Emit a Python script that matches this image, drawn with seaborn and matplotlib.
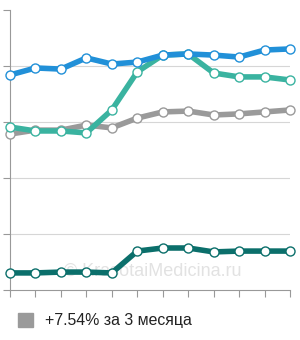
import numpy as np
import pandas as pd
import matplotlib
matplotlib.use("Agg")
import matplotlib.pyplot as plt
import seaborn as sns

# ---------- DATA ----------
months = list(range(12))
blue = [76.8, 79.3, 78.9, 82.9, 80.7, 81.4, 83.9, 84.3, 83.9, 83.2, 85.7, 86.1]
teal = [58.2, 56.8, 56.8, 56.1, 64.3, 77.9, 83.9, 84.3, 77.5, 76.1, 76.1, 75.0]
gray = [55.7, 57.1, 57.1, 58.9, 57.9, 61.4, 63.6, 63.9, 62.5, 62.9, 63.6, 64.3]
dark = [6.1, 6.1, 6.4, 6.4, 6.1, 13.9, 15.0, 15.0, 13.6, 13.9, 13.9, 13.9]
legend_label = "+7.54% за 3 месяца"
watermark = "© KrasotaiMedicina.ru"

series = {"gray": gray, "teal": teal, "blue": blue, "dark": dark}
colors = {"gray": "#9a9a9a", "teal": "#3ab3a0", "blue": "#2190d8", "dark": "#0b6f6b"}

df = pd.DataFrame(series, index=months).reset_index().melt(
    id_vars="index", var_name="name", value_name="value")

# ---------- PLOT ----------
sns.set_style("white")
plt.rcParams['font.family'] = ['Liberation Sans', 'DejaVu Sans']

fig = plt.figure(figsize=(3.0, 3.4), dpi=100)
ax = fig.add_axes([10 / 300, 50 / 340, 280 / 300, 280 / 340])

ax.text(5.6, 6.5, watermark, ha="center", va="center", fontsize=13,
        color="#e2e2e2", zorder=1)

for name in ["gray", "teal", "blue", "dark"]:
    sub = df[df["name"] == name]
    sns.lineplot(data=sub, x="index", y="value", ax=ax, color=colors[name],
                 linewidth=4, marker="o", markersize=6.5,
                 markerfacecolor="white", markeredgecolor=colors[name],
                 markeredgewidth=1, clip_on=False, zorder=3)

ax.set_xlim(0, 11)
ax.set_ylim(0, 100)
ax.set_xticks(months)
ax.set_yticks([0, 20, 40, 60, 80, 100])
ax.set_xticklabels([])
ax.set_yticklabels([])
ax.set_xlabel("")
ax.set_ylabel("")
for y in [20, 40, 60, 80]:
    ax.axhline(y, color="#d6d6d6", linewidth=0.8, zorder=0)
for s in ["top", "right"]:
    ax.spines[s].set_visible(False)
for s in ["left", "bottom"]:
    ax.spines[s].set_color("#999999")
    ax.spines[s].set_linewidth(0.8)
ax.tick_params(axis="both", length=5, width=0.8, color="#999999",
               direction="out", left=True, bottom=True)

# legend
fig.patches.append(plt.Rectangle((18 / 300, 1 - 327 / 340), 15 / 300, 14 / 340,
                                 transform=fig.transFigure, color="#9a9a9a"))
fig.text(45 / 300, 1 - 320 / 340, legend_label, fontsize=11.4, color="#222222",
         va="center", ha="left")

plt.savefig("out.png", dpi=100)
